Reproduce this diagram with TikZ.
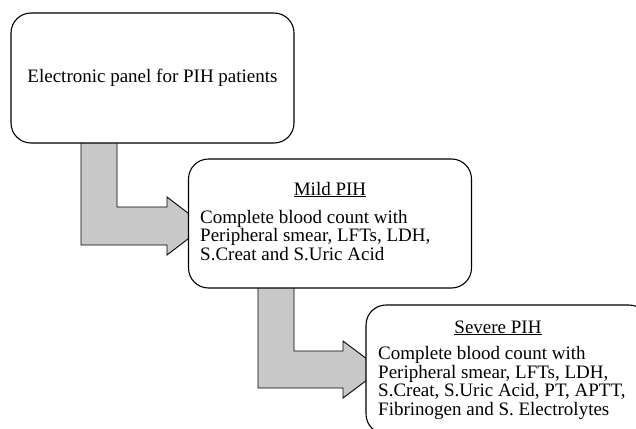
\documentclass[tikz,border=0pt]{standalone}
\usepackage{fontspec}
\setmainfont{Liberation Serif}
\definecolor{shaftgray}{RGB}{200,200,200}
\tikzset{bx/.style  = {draw, fill=white, line width=1.1pt, rounded corners=20pt,
                       minimum width=283pt, minimum height=129pt, inner sep=0pt, align=center},
    ttl/.style = {anchor=base, inner sep=0pt},
    txt/.style = {anchor=base west, inner sep=0pt, align=left},
    ar/.style  = {draw, fill=shaftgray, line width=0.9pt, line join=miter}}

\begin{document}
\begin{tikzpicture}[x=1pt, y=-1pt, font=\fontsize{19pt}{18.5pt}\selectfont]
        \clip (0,0) rectangle (636,428);
        % bent arrows, under the boxes
        \draw[ar] (81,140) -- (117,140) -- (117,207) -- (167,207) -- (167,197) -- (205,226)
                  -- (167,255) -- (167,245) -- (81,245) -- cycle;
        \draw[ar] (258,285) -- (294,285) -- (294,351) -- (343,351) -- (343,341) -- (381,369.5)
                  -- (343,398) -- (343,388) -- (258,388) -- cycle;

        \node[bx, minimum height=130pt] (panel) at (152.5,78) {Electronic panel for PIH patients};
        \node[bx] (mild) at (330,223.5) {};
        \node[bx] (severe) at (507.5,369.5) {};

        % base of a multi-line node is its last line
        \node[ttl] (mildt) at (330,195) {\underline{Mild PIH}};
        \node[txt] (mildb) at (200,260) {Complete blood count with\\
            Peripheral smear, LFTs, LDH,\\ S.Creat and S.Uric Acid};

        \node[ttl] (severet) at (498,333) {\underline{Severe PIH}};
        \node[txt] (severeb) at (378,415) {Complete blood count with\\
            Peripheral smear, LFTs, LDH,\\ S.Creat, S.Uric Acid, PT, APTT,\\
            Fibrinogen and S. Electrolytes};
    \end{tikzpicture}
\end{document}
